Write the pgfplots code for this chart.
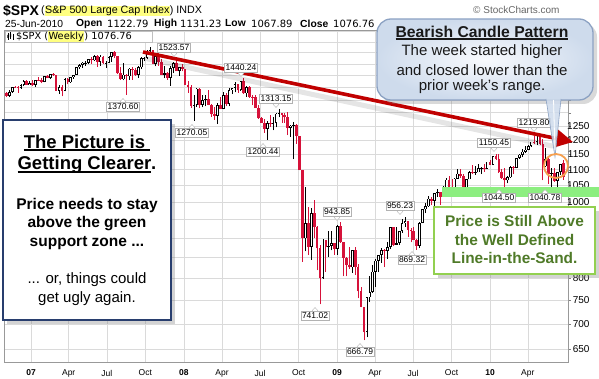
\documentclass[border=0pt]{standalone}
\usepackage{pgfplots}
\pgfplotsset{compat=1.18}
\usepackage{pgfplotstable}
\usepackage{fontspec}
\setmainfont{Liberation Sans}
\newfontfamily\dejavu{DejaVu Sans}
\usetikzlibrary{arrows.meta,shadows}
\definecolor{cred}{RGB}{214,18,58}
\definecolor{gridc}{RGB}{218,218,218}
\definecolor{trend}{RGB}{192,0,0}
\definecolor{hl}{RGB}{255,255,128}
\definecolor{band}{RGB}{140,238,128}
\definecolor{gtext}{RGB}{79,122,40}
\definecolor{gborder}{RGB}{146,208,80}
\definecolor{navy}{RGB}{40,62,110}
\definecolor{bubin}{RGB}{248,250,253}
\definecolor{bubout}{RGB}{206,219,236}
\definecolor{bubedge}{RGB}{140,162,195}
\definecolor{orng}{RGB}{245,160,80}
\setlength{\fboxsep}{0.4pt}
\newcommand\fs[1]{\fontsize{#1}{#1}\selectfont}
\newcommand\ul[1]{\setbox0\hbox{#1}\rlap{\rule[-3pt]{\wd0}{1.8pt}}\box0}

\pgfplotstableread{
w o h l c
-9 1377.3 1381.4 1360.0 1364.3
-8 1364.3 1388.2 1360.3 1380.9
-7 1380.9 1403.8 1378.9 1401.2
-6 1401.2 1407.9 1398.0 1400.9
-5 1400.9 1406.3 1377.8 1396.7
-4 1396.7 1415.3 1394.5 1409.8
-3 1409.8 1431.6 1405.9 1427.1
-2 1427.1 1429.0 1409.2 1410.8
-1 1410.8 1427.7 1409.5 1418.3
0 1418.3 1429.4 1403.9 1409.7
1 1409.7 1431.2 1403.3 1430.7
2 1430.7 1441.6 1427.2 1430.5
3 1430.5 1440.7 1416.8 1422.2
4 1422.2 1449.3 1420.7 1448.4
5 1448.4 1453.0 1437.2 1438.1
6 1438.1 1456.3 1433.4 1455.5
7 1455.5 1461.6 1449.4 1451.2
8 1451.2 1452.0 1386.1 1387.2
9 1387.2 1410.0 1374.1 1402.8
10 1402.8 1410.1 1364.0 1387.0
11 1387.0 1438.9 1383.9 1436.1
12 1436.1 1437.8 1412.9 1420.9
13 1420.9 1445.2 1419.6 1443.8
14 1443.8 1453.1 1435.5 1452.9
15 1452.9 1484.7 1452.0 1484.4
16 1484.4 1498.0 1478.9 1494.1
17 1494.1 1510.3 1482.1 1505.6
18 1505.6 1513.8 1491.4 1505.9
19 1505.9 1523.0 1498.4 1522.8
20 1522.8 1529.3 1500.5 1515.7
21 1515.7 1540.6 1511.8 1536.3
22 1536.3 1540.5 1487.4 1507.7
23 1507.7 1539.0 1492.7 1532.9
24 1532.9 1536.5 1500.3 1502.6
25 1502.6 1514.2 1484.2 1503.4
26 1503.4 1534.3 1502.0 1530.4
27 1530.4 1555.1 1510.2 1552.5
28 1552.5 1555.9 1525.5 1534.1
29 1534.1 1535.0 1458.0 1459.0
30 1459.0 1488.3 1432.1 1433.1
31 1433.1 1503.9 1429.2 1453.6
32 1453.6 1456.4 1370.6 1445.9
33 1445.9 1483.2 1432.6 1479.4
34 1479.4 1488.3 1432.8 1474.0
35 1474.0 1481.5 1449.7 1453.6
36 1453.6 1489.6 1439.3 1484.3
37 1484.3 1530.0 1476.1 1525.8
38 1525.8 1531.5 1511.9 1526.8
39 1526.8 1561.9 1520.6 1557.6
40 1557.6 1576.1 1546.7 1561.8
41 1561.8 1563.7 1500.2 1500.6
42 1500.6 1535.4 1489.6 1535.3
43 1535.3 1552.8 1492.5 1509.7
44 1509.7 1520.0 1453.0 1453.7
45 1453.7 1492.1 1438.5 1458.7
46 1458.7 1462.9 1432.2 1440.7
47 1440.7 1488.9 1406.1 1481.1
48 1481.1 1508.5 1460.0 1504.7
49 1504.7 1523.6 1467.3 1468.0
50 1468.0 1485.4 1449.8 1484.5
51 1484.5 1498.8 1467.7 1478.5
52 1478.5 1479.0 1411.2 1411.6
53 1411.6 1427.0 1379.0 1401.0
54 1401.0 1410.4 1320.0 1325.2
55 1325.2 1368.6 1270.1 1330.6
56 1330.6 1396.0 1322.4 1395.4
57 1395.4 1396.0 1316.8 1331.3
58 1331.3 1368.0 1320.3 1350.0
59 1350.0 1368.0 1324.6 1353.1
60 1353.1 1388.3 1328.6 1330.6
61 1330.6 1335.1 1285.0 1293.4
62 1293.4 1321.7 1274.3 1288.1
63 1288.1 1336.0 1257.0 1329.5
64 1329.5 1359.7 1312.8 1315.2
65 1315.2 1380.9 1312.3 1370.4
66 1370.4 1378.8 1324.4 1332.8
67 1332.8 1395.9 1324.4 1390.3
68 1390.3 1399.6 1373.2 1397.8
69 1397.8 1422.7 1379.7 1413.9
70 1413.9 1416.0 1379.1 1388.3
71 1388.3 1425.8 1386.0 1425.4
72 1425.4 1440.2 1373.1 1375.9
73 1375.9 1406.3 1362.4 1400.4
74 1400.4 1404.1 1359.0 1360.7
75 1360.7 1367.4 1328.6 1360.0
76 1360.0 1370.6 1317.1 1317.9
77 1317.9 1330.0 1278.0 1278.4
78 1278.4 1285.3 1260.7 1262.9
79 1262.9 1274.9 1225.3 1239.5
80 1239.5 1267.0 1200.4 1260.7
81 1260.7 1292.2 1247.3 1257.8
82 1257.8 1285.0 1234.4 1260.3
83 1260.3 1297.9 1245.6 1296.3
84 1296.3 1313.2 1282.3 1298.2
85 1298.2 1300.7 1261.7 1292.2
86 1292.2 1300.7 1263.2 1282.8
87 1282.8 1303.0 1217.2 1242.3
88 1242.3 1255.1 1212.3 1251.7
89 1251.7 1265.1 1133.5 1255.1
90 1255.1 1256.0 1187.0 1213.3
91 1213.3 1215.8 1097.6 1099.2
92 1097.6 1097.6 839.8 899.2
93 899.2 1044.3 865.8 940.6
94 940.6 985.4 857.7 876.8
95 876.8 984.4 845.3 968.8
96 968.8 1007.5 899.7 931.0
97 931.0 932.0 818.7 873.3
98 873.3 882.3 741.0 800.0
99 800.0 896.6 799.0 896.2
100 896.2 896.3 815.7 876.1
101 876.1 918.6 851.4 879.7
102 879.7 918.9 868.0 887.9
103 887.9 888.0 857.1 872.8
104 872.8 934.7 857.1 931.8
105 931.8 943.9 888.3 890.4
106 890.4 891.0 804.3 850.1
107 850.1 852.5 804.8 832.0
108 832.0 877.9 821.7 825.9
109 825.9 870.0 812.9 868.6
110 868.6 876.0 808.0 826.8
111 826.8 835.0 754.3 770.1
112 770.1 779.4 734.5 735.1
113 735.1 736.0 666.8 683.4
114 683.4 758.3 672.9 756.6
115 756.6 804.5 747.0 768.5
116 768.5 833.0 766.2 815.9
117 815.9 845.6 779.8 842.5
118 842.5 856.9 814.5 856.6
119 856.6 875.6 836.9 869.6
120 869.6 871.8 826.8 866.2
121 866.2 888.7 847.1 877.5
122 877.5 930.2 873.0 929.2
123 929.2 930.2 878.9 882.9
124 882.9 930.2 882.1 887.0
125 887.0 920.0 881.5 919.1
126 919.1 951.7 914.5 940.1
127 940.1 956.2 930.0 946.2
128 946.2 946.3 903.8 921.2
129 921.2 928.0 888.9 918.9
130 918.9 931.0 896.0 896.4
131 896.4 898.7 869.3 879.1
132 879.1 944.0 875.3 940.4
133 940.4 979.8 940.0 979.3
134 979.3 996.7 968.7 987.5
135 987.5 1018.0 987.0 1010.5
136 1010.5 1015.0 991.1 1004.1
137 1004.1 1027.6 978.5 1026.1
138 1026.1 1039.5 1016.2 1028.9
139 1028.9 1029.0 992.0 1016.4
140 1016.4 1048.2 1016.0 1042.7
141 1042.7 1074.8 1036.1 1068.3
142 1068.3 1080.2 1041.2 1044.4
143 1044.4 1069.6 1020.0 1025.2
144 1025.2 1073.0 1025.0 1071.5
145 1071.5 1101.4 1071.0 1087.7
146 1087.7 1101.4 1075.0 1079.6
147 1079.6 1085.0 1033.4 1036.2
148 1036.2 1071.5 1029.4 1069.3
149 1069.3 1097.0 1069.0 1093.5
150 1093.5 1113.7 1085.0 1091.4
151 1091.4 1112.4 1083.7 1091.5
152 1091.5 1119.1 1091.0 1106.0
153 1106.0 1107.5 1085.7 1106.4
154 1106.4 1117.7 1093.3 1102.5
155 1102.5 1126.5 1102.0 1126.5
156 1126.5 1130.4 1114.8 1115.1
157 1115.1 1145.4 1115.0 1145.0
158 1145.0 1150.5 1131.1 1136.0
159 1136.0 1150.4 1090.2 1091.8
160 1091.8 1103.7 1071.6 1073.9
161 1073.9 1104.7 1044.5 1066.2
162 1066.2 1080.0 1056.5 1075.5
163 1075.5 1112.4 1075.0 1109.2
164 1109.2 1112.4 1086.0 1104.5
165 1104.5 1139.0 1104.0 1138.7
166 1138.7 1151.0 1136.0 1150.0
167 1150.0 1169.2 1141.0 1159.9
168 1159.9 1180.7 1155.0 1166.6
169 1166.6 1181.4 1165.0 1178.1
170 1178.1 1194.7 1175.0 1194.4
171 1194.4 1213.9 1186.0 1192.1
172 1192.1 1217.3 1183.0 1217.3
173 1217.3 1219.8 1181.6 1186.7
174 1186.7 1205.1 1065.8 1110.9
175 1110.9 1173.6 1110.0 1135.7
176 1135.7 1141.0 1055.9 1087.7
177 1087.7 1104.0 1040.8 1089.4
178 1089.4 1105.7 1060.5 1064.9
179 1064.9 1094.0 1042.2 1091.6
180 1091.6 1119.0 1082.6 1117.5
181 1122.8 1131.2 1067.9 1076.8
}\spx

\pgfplotsset{candle/.style={draw=none, mark=none, forget plot,
  error bars/y dir=plus, error bars/y explicit, error bars/error mark=none}}

\begin{document}
\begin{tikzpicture}
\path[use as bounding box] (0,0) rectangle (599pt,379pt);
\begin{axis}[
  at={(4pt,17pt)}, anchor=south west,
  scale only axis, width=564pt, height=332pt,
  ymode=log, ymin=626, ymax=1657,
  xmin=-9.78, xmax=182.58,
  clip=false,
  axis line style={draw=black!40, line width=0.6pt},
  grid=major, major grid style={draw=gridc, line width=0.5pt},
  xtick={-0.571,12.29,25.29,38.43,51.57,64.57,77.57,90.71,103.86,116.71,129.71,142.86,156,168.86},
  xticklabels={\textbf{07},Apr,Jul,Oct,\textbf{08},Apr,Jul,Oct,\textbf{09},Apr,Jul,Oct,\textbf{10},Apr},
  xtick style={draw=none},
  xticklabel style={font=\fs{8.5}, yshift=-1.5pt},
  ytick={650,700,750,800,850,900,950,1000,1050,1100,1150,1200,1250,1300,1350,1400,1450,1500,1550,1600,1650},
  yticklabels={650,700,750,800,{},{},{},1000,1050,1100,1150,1200,1250,{},{},{},{},{},{},{},{}},
  ytick pos=right,
  ytick style={draw=black!50},
  major tick length=3pt, tick align=outside,
  yticklabel style={font=\fs{10}, anchor=east, xshift=22pt},
]
% up candles: wick, black body, white interior
\addplot[candle, restrict expr to domain={\thisrow{c}-\thisrow{o}}{0:100000},
  error bars/error bar style={draw=black, line width=0.8pt}]
  table[x=w, y=l, y error plus expr={\thisrow{h}-\thisrow{l}}]{\spx};
\addplot[candle, restrict expr to domain={\thisrow{c}-\thisrow{o}}{0:100000},
  error bars/error bar style={draw=black, line width=2.7pt}]
  table[x=w, y=o, y error plus expr={\thisrow{c}-\thisrow{o}}]{\spx};
\addplot[candle, restrict expr to domain={\thisrow{c}/\thisrow{o}}{1.005:10},
  error bars/error bar style={draw=white, line width=1.0pt, shorten <=0.8pt, shorten >=0.8pt}]
  table[x=w, y=o, y error plus expr={\thisrow{c}-\thisrow{o}}]{\spx};
% down candles: red wick and red body
\addplot[candle, restrict expr to domain={\thisrow{o}-\thisrow{c}}{0.001:100000},
  error bars/error bar style={draw=cred, line width=0.8pt}]
  table[x=w, y=l, y error plus expr={\thisrow{h}-\thisrow{l}}]{\spx};
\addplot[candle, restrict expr to domain={\thisrow{o}-\thisrow{c}}{0.001:100000},
  error bars/error bar style={draw=cred, line width=2.7pt}]
  table[x=w, y=c, y error plus expr={\thisrow{o}-\thisrow{c}}]{\spx};
\end{axis}

\begin{scope}[x=1pt,y=-1pt,yshift=379pt]
% header
\node[anchor=west, inner sep=0pt, font=\bfseries\fs{14}] at (3,11) {\$SPX};
\node[anchor=west, inner sep=0pt, font=\fs{10.7}] at (41,11) {(\colorbox{hl}{S\&P 500 Large Cap Index}) INDX};
\begin{scope}[every node/.style={anchor=west, inner sep=0pt, font=\fs{10.3}}]
\node at (5,23.5) {25-Jun-2010};
\node[font=\bfseries\fs{10.3}] at (76,23.5) {Open};
\node[font=\dejavu\fs{10}] at (107,23.5) {1122.79};
\node[font=\bfseries\fs{10.3}] at (154,23.5) {High};
\node[font=\dejavu\fs{10}] at (180,23.5) {1131.23};
\node[font=\bfseries\fs{10.3}] at (225,23.5) {Low};
\node[font=\dejavu\fs{10}] at (251,23.5) {1067.89};
\node[font=\bfseries\fs{10.3}] at (300,23.5) {Close};
\node[font=\dejavu\fs{10}] at (333,23.5) {1076.76};
\end{scope}
\node[anchor=west, inner sep=0pt, font=\fs{10}, text=black!60] at (473,10) {\textcopyright\ StockCharts.com};
% in-chart legend label
\draw[black!25, fill=white] (5,31) rectangle (152,42);
\draw[black, line width=0.7pt] (8,33) -- (8,40) (10.5,32.5) -- (10.5,39) (13,34) -- (13,40);
\fill[black] (7.3,35) rectangle (8.7,38) (9.8,34) rectangle (11.2,37);
\node[anchor=west, inner sep=0pt, font=\dejavu\fs{9.8}] at (16,36.5) {\$SPX (\colorbox{hl}{Weekly}) 1076.76};
% support band
\fill[band] (442,187) rectangle (599,197);
% trend line
\draw[black, opacity=0.1, line width=5pt, line cap=round] (148,59) -- (552,146);
\draw[trend, line width=3.6pt, -{Triangle[length=17pt,width=17pt]}] (143,52) -- (573,142);
% price labels
\begin{scope}[every node/.style={draw=black!30, fill=white, inner sep=1.3pt, font=\fs{8.5}}]
\newcommand\lup[3]{\node at (#1,#2) {#3};
  \draw[black!30, fill=white] (#1-3,#2+5.2) -- (#1,#2+8.5) -- (#1+3,#2+5.2);}
\newcommand\ldn[3]{\node at (#1,#2) {#3};
  \draw[black!30, fill=white] (#1-3,#2-5.2) -- (#1,#2-8.5) -- (#1+3,#2-5.2);}
\lup{174}{48}{1523.57}
\ldn{123}{107}{1370.60}
\lup{241}{68}{1440.24}
\lup{276}{99}{1313.15}
\ldn{192}{133}{1270.05}
\ldn{263}{152}{1200.44}
\lup{337}{212}{943.85}
\ldn{315}{316}{741.02}
\ldn{360}{352}{666.79}
\lup{400}{206}{956.23}
\ldn{412}{260}{869.32}
\lup{494}{143}{1150.45}
\lup{534}{123}{1219.80}
\ldn{499}{198}{1044.50}
\ldn{545}{198}{1040.78}
\end{scope}
% left text box
\draw[navy, line width=1.1pt, fill=white, drop shadow={shadow xshift=4pt, shadow yshift=-4pt, opacity=0.35}] (3,120) rectangle (171,320);
\begin{scope}[every node/.style={inner sep=0pt}]
\node[font=\bfseries\fs{18.5}] at (87,143) {\ul{The Picture is\ }};
\node[font=\bfseries\fs{18.5}] at (87,165) {\ul{Getting Clearer}.};
\node[font=\bfseries\fs{15.5}] at (87,205) {Price needs to stay};
\node[font=\bfseries\fs{15.5}] at (87,224) {above the green};
\node[font=\bfseries\fs{15.5}] at (87,243) {support zone ...};
\node[font=\fs{15}] at (87,280) {... or, things could};
\node[font=\fs{15}] at (87,299) {get ugly again.};
\end{scope}
% green box
\draw[gborder, line width=2pt, fill=white, drop shadow={shadow xshift=4pt, shadow yshift=-4pt, opacity=0.35}] (434,207) rectangle (595,274);
\begin{scope}[every node/.style={inner sep=0pt, text=gtext, font=\bfseries\fs{15.4}}]
\node at (514.5,221) {Price is Still Above};
\node at (514.5,240) {the Well Defined};
\node at (514.5,258) {Line-in-the-Sand.};
\end{scope}
% bearish bubble
\draw[bubedge, line width=1.3pt, rounded corners=14pt, inner color=bubin, outer color=bubout, drop shadow={shadow xshift=4pt, shadow yshift=-4pt, opacity=0.3}] (377,19) rectangle (593,100);
\fill[bubout, opacity=0.85] (546,99) -- (555,157) -- (561,99) -- cycle;
\draw[bubedge, line width=0.6pt] (546,99) -- (555,157) -- (561,99);
\draw[white, line width=0.8pt] (553.5,100) -- (555,150);
\begin{scope}[every node/.style={inner sep=0pt, text=black!90}]
\node[font=\bfseries\fs{15.7}] at (482,33) {\ul{Bearish Candle Pattern}};
\node[font=\fs{15}] at (482,52) {The week started higher};
\node[font=\fs{15}] at (482,70) {and closed lower than the};
\node[font=\fs{15}] at (482,87) {prior week's range.};
\end{scope}
% orange circle
\draw[orng, line width=1.8pt] (556,166) circle (12pt);
\end{scope}
\end{tikzpicture}
\end{document}
